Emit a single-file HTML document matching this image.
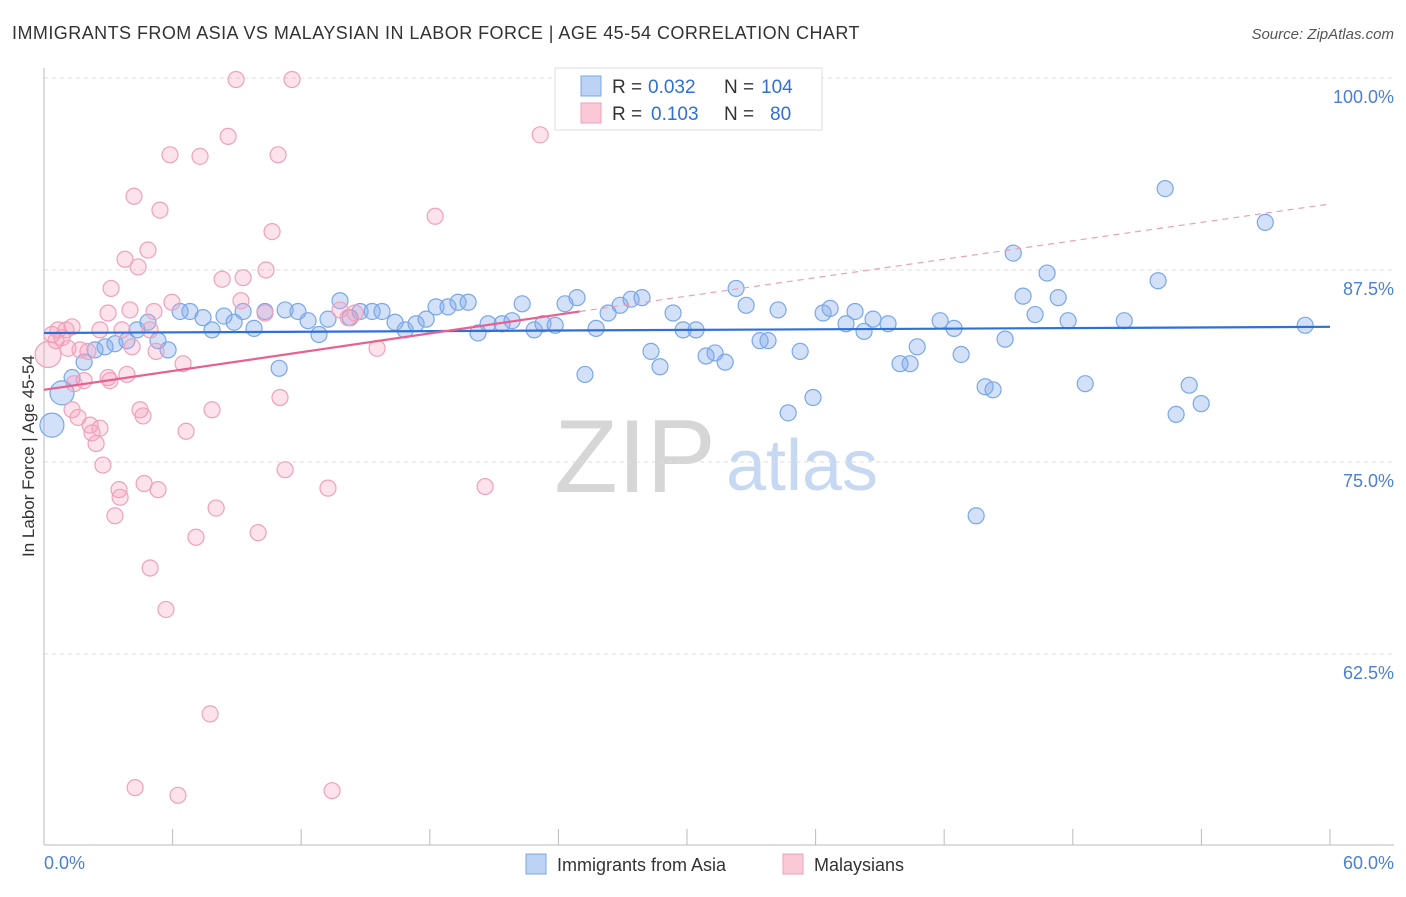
<!DOCTYPE html>
<html><head><meta charset="utf-8">
<style>
body{margin:0;background:#fff;font-family:"Liberation Sans",sans-serif;}
svg text{font-family:"Liberation Sans",sans-serif;}
</style></head>
<body>
<svg id="chart" width="1406" height="892" viewBox="0 0 1406 892">
<text x="12" y="39" font-size="18" letter-spacing="0.45" fill="#333">IMMIGRANTS FROM ASIA VS MALAYSIAN IN LABOR FORCE | AGE 45-54 CORRELATION CHART</text>
<text x="1394" y="39" font-size="15" fill="#555" font-style="italic" text-anchor="end">Source: ZipAtlas.com</text>
<g>
<text x="635" y="492" font-size="104" fill="#d6d6d6" font-family="Liberation Serif" text-anchor="middle">ZIP</text>
<text x="802" y="490" font-size="72" fill="#c7d9f2" text-anchor="middle">atlas</text>
</g>
<g id="grid"></g>
<g id="axes"></g>
<g id="points"></g>
<g id="trends"></g>
<text transform="translate(34,456) rotate(-90)" font-size="17" fill="#333" text-anchor="middle">In Labor Force | Age 45-54</text>
<text x="44" y="869" font-size="18" fill="#4a7fd6">0.0%</text>
<text x="1394" y="869" font-size="18" fill="#4a7fd6" text-anchor="end">60.0%</text>
<g>
<rect x="555" y="68" width="267" height="62" fill="#fff" stroke="#ddd"/>
<rect x="581" y="76" width="20" height="20" fill="#bcd3f5" stroke="#7aa7e8"/>
<text x="612" y="93" font-size="19" fill="#333">R = <tspan x="648" fill="#2f6fd6">0.032</tspan></text>
<text x="724" y="93" font-size="19" fill="#333">N = <tspan x="761" fill="#2f6fd6">104</tspan></text>
<rect x="581" y="103" width="20" height="20" fill="#f9c9d8" stroke="#f0a0bb"/>
<text x="612" y="120" font-size="19" fill="#333">R = <tspan x="651" fill="#2f6fd6">0.103</tspan></text>
<text x="724" y="120" font-size="19" fill="#333">N = <tspan x="770" fill="#2f6fd6">80</tspan></text>
</g>
<g>
<rect x="526" y="854" width="20" height="20" fill="#bcd3f5" stroke="#7aa7e8"/>
<text x="557" y="871" font-size="18" fill="#333">Immigrants from Asia</text>
<rect x="783" y="854" width="20" height="20" fill="#f9c9d8" stroke="#f0a0bb"/>
<text x="814" y="871" font-size="18" fill="#333">Malaysians</text>
</g>
</svg>
<script>
const yTicks=[100,87.5,75,62.5];
const yTickLabels=["100.0%","87.5%","75.0%","62.5%"];
const xTicks=[0,6,12,18,24,30,36,42,48,54,60];
const asiaX=[0.37,0.84,1.31,1.87,2.38,2.85,3.31,3.87,4.34,4.85,5.32,5.79,6.35,6.81,7.42,7.84,8.40,8.87,9.29,9.80,10.31,10.97,11.25,11.85,12.32,12.83,13.25,13.81,14.28,14.75,15.31,15.77,16.38,16.85,17.36,17.83,18.29,18.85,19.32,19.79,20.25,20.72,21.37,21.84,22.31,22.87,23.28,23.85,24.31,24.87,25.24,25.76,26.32,26.88,27.39,27.90,28.32,28.74,29.35,29.82,30.42,30.89,31.31,31.78,32.29,32.76,33.41,33.78,34.25,34.72,35.28,35.88,36.35,36.68,37.42,37.84,38.26,38.68,39.38,39.94,40.41,40.74,41.81,42.46,42.79,43.49,43.91,44.28,44.84,45.22,45.68,46.24,46.80,47.32,47.78,48.58,50.40,51.98,52.31,52.82,53.43,53.99,56.98,58.84];
const asiaY=[77.4,79.5,80.5,81.5,82.3,82.5,82.7,82.9,83.6,84.1,82.9,82.3,84.8,84.8,84.4,83.6,84.5,84.1,84.8,83.7,84.8,81.1,84.9,84.8,84.2,83.3,84.3,85.5,84.4,84.8,84.8,84.8,84.1,83.6,84.0,84.3,85.1,85.1,85.4,85.4,83.4,84.0,84.0,84.2,85.3,83.6,84.0,83.9,85.3,85.7,80.7,83.7,84.7,85.2,85.6,85.7,82.2,81.2,84.7,83.6,83.6,81.9,82.1,81.5,86.3,85.2,82.9,82.9,84.9,78.2,82.2,79.2,84.7,85.0,84.0,84.8,83.5,84.3,84.0,81.4,81.4,82.5,84.2,83.7,82.0,71.5,79.9,79.7,83.0,88.6,85.8,84.6,87.3,85.7,84.2,80.1,84.2,86.8,92.8,78.1,80.0,78.8,90.6,83.9];
const malayX=[0.19,0.37,0.65,0.84,1.03,1.31,1.12,1.40,1.31,1.59,1.87,2.05,2.15,2.24,2.43,2.61,2.75,2.99,2.99,3.13,3.31,3.50,3.55,3.64,3.78,3.87,4.01,4.20,4.39,4.48,4.62,4.67,4.85,4.95,5.13,5.23,5.32,5.41,5.69,5.88,5.97,6.25,6.49,6.63,7.09,7.28,7.75,7.84,8.03,8.31,8.59,8.96,9.19,9.29,9.99,10.31,10.36,10.64,10.92,11.01,11.25,11.57,13.25,13.44,13.81,14.19,14.51,15.54,18.25,20.58,23.15,4.11,2.61,0.56,1.68,3.08,4.95,4.25];
const malayY=[82.0,83.3,83.6,83.1,83.6,83.8,82.4,80.1,78.4,77.9,80.3,82.2,77.4,76.9,76.2,77.2,74.8,80.5,84.7,86.3,71.5,73.2,72.7,83.6,88.2,80.7,84.9,92.3,87.7,78.4,78.0,73.6,88.8,68.1,84.8,82.2,73.2,91.4,65.4,95.0,85.4,53.3,81.4,77.0,70.1,94.9,58.6,78.4,72.0,86.9,96.2,99.9,85.5,87.0,70.4,84.7,87.5,90.0,95.0,79.2,74.5,99.9,73.3,53.6,84.9,84.4,84.7,82.4,91.0,73.4,96.3,82.5,83.6,82.9,82.3,80.3,83.6,53.8];
const asiaTrendX=[0,60];
const asiaTrendY=[83.4,83.8];
const malayTrendX=[0,25,60];
const malayTrendY=[79.7,84.8,91.8];

const NS="http://www.w3.org/2000/svg";
const xs=v=>44+v*(1330-44)/60;
const ys=v=>78+(100-v)*15.36;
function mk(tag,attrs,parent){const e=document.createElementNS(NS,tag);for(const k in attrs)e.setAttribute(k,attrs[k]);parent.appendChild(e);return e;}
const grid=document.getElementById('grid'),axes=document.getElementById('axes'),pts=document.getElementById('points'),tr=document.getElementById('trends');
yTicks.forEach((t,i)=>{
 const l=mk('line',{x1:44,x2:1394,y1:ys(t),y2:ys(t),stroke:'#ddd','stroke-dasharray':'4,4'},grid);
 
 
 const tx=mk('text',{x:1394,y:ys(t)+25,'font-size':18,fill:'#4a7fd6','text-anchor':'end'},grid);
 tx.textContent=yTickLabels[i];
 
 
});
const ya=mk('line',{x1:44,x2:44,y1:68,y2:845,stroke:'#bbb'},axes);


const xa=mk('line',{x1:44,x2:1394,y1:845,y2:845,stroke:'#bbb'},axes);


xTicks.forEach(t=>{
 const l=mk('line',{x1:xs(t),x2:xs(t),y1:829,y2:845,stroke:'#bbb'},axes);
 
 
});
asiaX.forEach((x,i)=>{
 const r=(i<2)?12:8;
 const c=mk('circle',{cx:xs(x),cy:ys(asiaY[i]),r:r,fill:'rgba(130,170,235,0.35)',stroke:'#7aa7e8','stroke-width':1.2},pts);
 
 
});
malayX.forEach((x,i)=>{
 const r=(i===0)?13:8;
 const c=mk('circle',{cx:xs(x),cy:ys(malayY[i]),r:r,fill:'rgba(245,160,190,0.3)',stroke:'#f0a0bb','stroke-width':1.2},pts);
 
 
});
const bl=mk('line',{x1:xs(asiaTrendX[0]),y1:ys(asiaTrendY[0]),x2:xs(asiaTrendX[1]),y2:ys(asiaTrendY[1]),stroke:'#2f6fd6','stroke-width':2.2},tr);


const pl=mk('line',{x1:xs(malayTrendX[0]),y1:ys(malayTrendY[0]),x2:xs(malayTrendX[1]),y2:ys(malayTrendY[1]),stroke:'#e8608f','stroke-width':2.2},tr);


const pd=mk('line',{x1:xs(malayTrendX[1]),y1:ys(malayTrendY[1]),x2:xs(malayTrendX[2]),y2:ys(malayTrendY[2]),stroke:'#eaa0b8','stroke-width':1.2,'stroke-dasharray':'6,5'},tr);


</script>
</body></html>
